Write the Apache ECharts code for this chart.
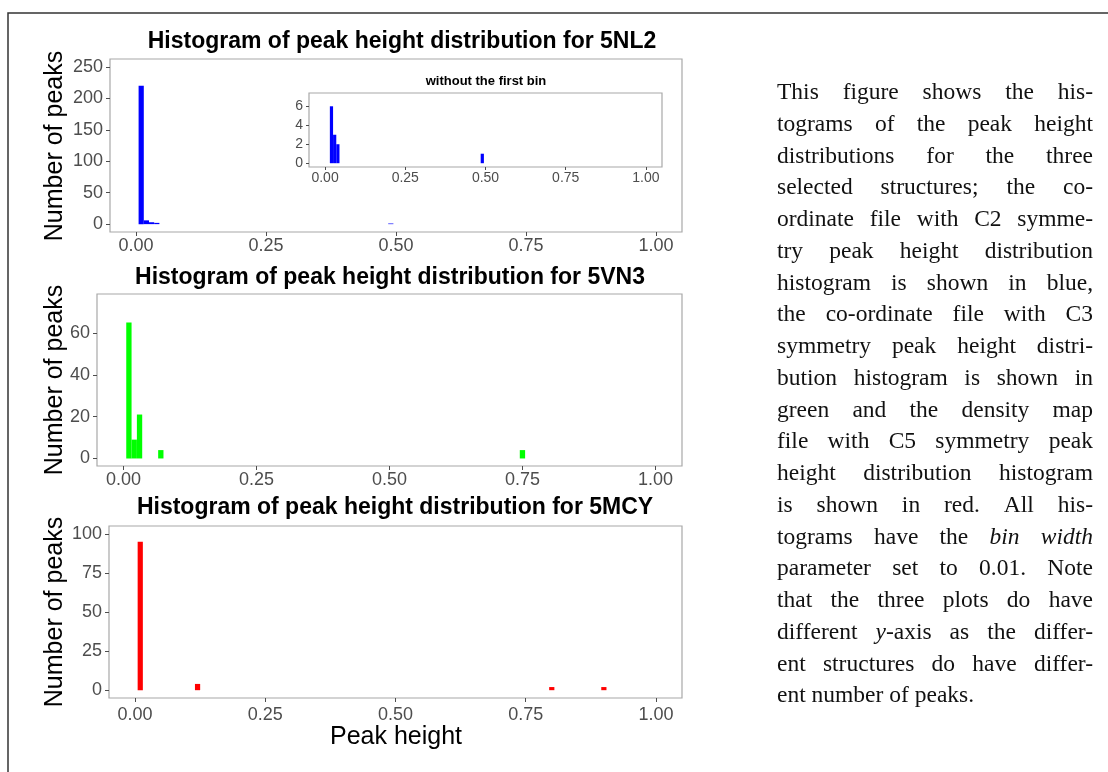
<!DOCTYPE html>
<html>
<head>
<meta charset="utf-8">
<script src="https://cdn.jsdelivr.net/npm/echarts@6/dist/echarts.min.js"></script>
<style>
  html, body { margin: 0; padding: 0; background: #ffffff; }
  #chart { width: 1108px; height: 772px; }
</style>
</head>
<body>
<div id="chart"></div>
<script>
// Histogram bins (centres, bin width 0.01) and peak counts per structure
const binWidth = 0.01;
const binsNL2 = [0.01, 0.02, 0.03, 0.04, 0.49];
const countsNL2 = [220, 6, 3, 2, 1];
const binsNL2NoFirst = [0.02, 0.03, 0.04, 0.49];
const countsNL2NoFirst = [6, 3, 2, 1];
const binsVN3 = [0.01, 0.02, 0.03, 0.07, 0.75];
const countsVN3 = [65, 9, 21, 4, 4];
const binsMCY = [0.01, 0.12, 0.80, 0.90];
const countsMCY = [95, 4, 2, 2];

// Tick values
const xTicks = [0, 0.25, 0.5, 0.75, 1];
const yTicksNL2 = [0, 50, 100, 150, 200, 250];
const yTicksNL2NoFirst = [0, 2, 4, 6];
const yTicksVN3 = [0, 20, 40, 60];
const yTicksMCY = [0, 25, 50, 75, 100];

// Titles
const titleNL2 = 'Histogram of peak height distribution for 5NL2';
const titleVN3 = 'Histogram of peak height distribution for 5VN3';
const titleMCY = 'Histogram of peak height distribution for 5MCY';
const titleInset = 'without the first bin';
const yTitle = 'Number of peaks';
const xTitle = 'Peak height';

// Caption text, one entry per typeset line; *...* marks italics
const captionLines = [
  'This figure shows the his-',
  'tograms of the peak height',
  'distributions for the three',
  'selected structures; the co-',
  'ordinate file with C2 symme-',
  'try peak height distribution',
  'histogram is shown in blue,',
  'the co-ordinate file with C3',
  'symmetry peak height distri-',
  'bution histogram is shown in',
  'green and the density map',
  'file with C5 symmetry peak',
  'height distribution histogram',
  'is shown in red.  All his-',
  'tograms have the *bin* *width*',
  'parameter set to 0.01. Note',
  'that the three plots do have',
  'different *y*-axis as the differ-',
  'ent structures do have differ-',
  'ent number of peaks.'
];

const SANS = '"Liberation Sans", Arial, sans-serif';
const SERIF = '"Liberation Serif", "Times New Roman", serif';
const TICK_GREY = '#4D4D4D';
const BORDER_GREY = '#A8A8A8';

const chart = echarts.init(document.getElementById('chart'), null, { renderer: 'canvas' });

const panels = [
  { left: 110, top: 59, width: 572, height: 173, ymin: -12.5, ymax: 262.5, yTicks: yTicksNL2, font: 18, xGap: 5, bins: binsNL2, counts: countsNL2, color: '#0000FF' },
  { left: 309, top: 93, width: 353, height: 74, ymin: -0.4, ymax: 7.4, yTicks: yTicksNL2NoFirst, font: 14, xGap: 4, bins: binsNL2NoFirst, counts: countsNL2NoFirst, color: '#0000FF', tick: 3 },
  { left: 97, top: 294, width: 585, height: 172, ymin: -3.6, ymax: 78.6, yTicks: yTicksVN3, font: 18, xGap: 5, bins: binsVN3, counts: countsVN3, color: '#00FF00' },
  { left: 109, top: 526, width: 573, height: 172, ymin: -5, ymax: 105, yTicks: yTicksMCY, font: 18, xGap: 8, bins: binsMCY, counts: countsMCY, color: '#FF0000' }
];

const grids = [], xAxes = [], yAxes = [], series = [];
panels.forEach((p, i) => {
  const tickLen = p.tick || 4;
  grids.push({
    left: p.left, top: p.top, width: p.width, height: p.height,
    show: true, borderColor: BORDER_GREY, borderWidth: 1.2, backgroundColor: '#ffffff',
    containLabel: false, z: i === 1 ? 5 : 0
  });
  xAxes.push({
    type: 'value', gridIndex: i, min: -0.05, max: 1.05,
    axisLine: { show: false, onZero: false }, splitLine: { show: false },
    axisTick: { show: true, customValues: xTicks, length: tickLen, lineStyle: { color: TICK_GREY, width: 1 } },
    axisLabel: { customValues: xTicks, formatter: v => v.toFixed(2), color: TICK_GREY, fontSize: p.font, fontFamily: SANS, margin: p.xGap },
    z: i === 1 ? 6 : 1
  });
  yAxes.push({
    type: 'value', gridIndex: i, min: p.ymin, max: p.ymax,
    axisLine: { show: false, onZero: false }, splitLine: { show: false },
    axisTick: { show: true, customValues: p.yTicks, length: tickLen, lineStyle: { color: TICK_GREY, width: 1 } },
    axisLabel: { customValues: p.yTicks, color: TICK_GREY, fontSize: p.font, fontFamily: SANS, margin: tickLen + 3 },
    z: i === 1 ? 6 : 1
  });
  series.push({
    type: 'custom', xAxisIndex: i, yAxisIndex: i,
    z: i === 1 ? 7 : 2,
    data: p.bins.map((b, k) => [b, p.counts[k]]),
    renderItem: (params, api) => {
      const x = api.value(0), y = api.value(1);
      const a = api.coord([x - binWidth / 2, 0]);
      const b = api.coord([x + binWidth / 2, y]);
      return {
        type: 'rect',
        shape: { x: a[0], y: b[1], width: b[0] - a[0], height: a[1] - b[1] },
        style: { fill: p.color }
      };
    }
  });
});

const graphics = [];
// page frame
graphics.push({ type: 'polyline', shape: { points: [[8, 772], [8, 13], [1108, 13]] }, style: { stroke: '#333333', lineWidth: 1.5, fill: null } });

// panel titles and axis titles
function centerText(text, x, y, font, color, rot) {
  return { type: 'text', x, y, rotation: rot || 0, z: 10,
    style: { text, font, fill: color || '#000000', align: 'center', verticalAlign: 'middle' } };
}
graphics.push(centerText(titleNL2, 402, 42, 'bold 23px ' + SANS));
graphics.push(centerText(titleVN3, 390, 278, 'bold 23px ' + SANS));
graphics.push(centerText(titleMCY, 395, 508, 'bold 23px ' + SANS));
graphics.push(centerText(titleInset, 486, 81, 'bold 13px ' + SANS));
graphics.push(centerText(yTitle, 55, 146, '25px ' + SANS, '#000000', Math.PI / 2));
graphics.push(centerText(yTitle, 55, 380, '25px ' + SANS, '#000000', Math.PI / 2));
graphics.push(centerText(yTitle, 55, 612, '25px ' + SANS, '#000000', Math.PI / 2));
graphics.push(centerText(xTitle, 396, 737, '25px ' + SANS));

// justified caption
const measureCtx = document.createElement('canvas').getContext('2d');
const capFont = '23.5px ' + SERIF;
const capItalic = 'italic 23.5px ' + SERIF;
const capLeft = 777, capRight = 1093, capTop = 93, capStep = 31.75;
function segmentsOf(word) {
  const segs = [];
  const re = /\*([^*]+)\*|[^*]+/g;
  let m;
  while ((m = re.exec(word)) !== null) {
    const italic = m[1] !== undefined;
    const text = italic ? m[1] : m[0];
    const font = italic ? capItalic : capFont;
    measureCtx.font = font;
    segs.push({ text, font, w: measureCtx.measureText(text).width });
  }
  return segs;
}
captionLines.forEach((line, li) => {
  const words = line.split(/\s+/).filter(s => s.length).map(w => {
    const segs = segmentsOf(w);
    return { segs, w: segs.reduce((s, g) => s + g.w, 0) };
  });
  const total = words.reduce((s, w) => s + w.w, 0);
  const last = li === captionLines.length - 1;
  measureCtx.font = capFont;
  const gap = last || words.length < 2 ? measureCtx.measureText(' ').width : (capRight - capLeft - total) / (words.length - 1);
  let x = capLeft;
  const y = capTop + li * capStep;
  words.forEach(w => {
    let sx = x;
    w.segs.forEach(g => {
      graphics.push({ type: 'text', x: sx, y, z: 10,
        style: { text: g.text, font: g.font, fill: '#111111', align: 'left', verticalAlign: 'middle' } });
      sx += g.w;
    });
    x += w.w + gap;
  });
});

chart.setOption({
  animation: false,
  backgroundColor: '#ffffff',
  grid: grids,
  xAxis: xAxes,
  yAxis: yAxes,
  series: series,
  graphic: { elements: graphics }
});
</script>
</body>
</html>
